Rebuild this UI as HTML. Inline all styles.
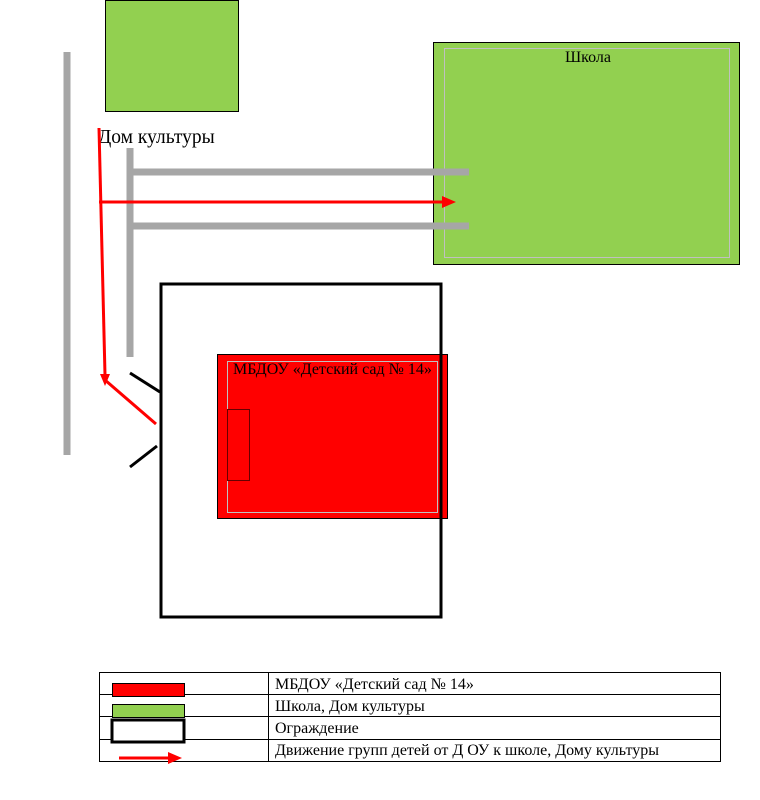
<!DOCTYPE html>
<html><head><meta charset="utf-8"><style>
body{margin:0;background:#fff}
svg text{font-family:"Liberation Serif",serif;fill:#000}
</style></head><body>
<svg width="760" height="795" viewBox="0 0 760 795" xmlns="http://www.w3.org/2000/svg">
<rect x="105.5" y="0.5" width="133" height="111" fill="#92d050" stroke="#000"/>
<text x="98" y="143" font-size="19.5">Дом культуры</text>
<rect x="433.5" y="42.5" width="306" height="222" fill="#92d050" stroke="#000"/>
<rect x="444.5" y="48.5" width="285" height="209" fill="none" stroke="#c0c0c0"/>
<text x="588" y="62" font-size="16" text-anchor="middle">Школа</text>
<g stroke="#a6a6a6" stroke-width="7" fill="none">
<line x1="67" y1="52" x2="67" y2="455"/>
<line x1="130" y1="148" x2="130" y2="357"/>
<line x1="130" y1="172" x2="469" y2="172"/>
<line x1="130" y1="226" x2="469" y2="226"/>
</g>
<rect x="161" y="284" width="280" height="333" fill="none" stroke="#000" stroke-width="3"/>
<rect x="217.5" y="354.5" width="230" height="164" fill="#ff0000" stroke="#000"/>
<rect x="227.5" y="361.5" width="210" height="151" fill="none" stroke="#c0c0c0"/>
<rect x="227.5" y="409.5" width="22" height="71" fill="none" stroke="#600" />
<line x1="441" y1="284" x2="441" y2="617" stroke="#000" stroke-width="3"/>
<text x="233" y="374" font-size="16">МБДОУ «Детский сад № 14»</text>
<g stroke="#000" stroke-width="3">
<line x1="130" y1="373" x2="160" y2="392"/>
<line x1="130" y1="467" x2="157" y2="446"/>
</g>
<g stroke="#ff0000" stroke-width="3" fill="none">
<line x1="99" y1="128" x2="105" y2="375"/>
<line x1="105" y1="380" x2="156" y2="424"/>
<line x1="99" y1="202" x2="443" y2="202"/>
</g>
<polygon points="100,374 110,374 105,386" fill="#ff0000"/>
<polygon points="442,196 456,202 442,208" fill="#ff0000"/>
<g stroke="#000" stroke-width="1">
<line x1="99" y1="672.5" x2="720" y2="672.5"/>
<line x1="99" y1="694.5" x2="720" y2="694.5"/>
<line x1="99" y1="716.5" x2="720" y2="716.5"/>
<line x1="99" y1="739.5" x2="720" y2="739.5"/>
<line x1="99" y1="761.5" x2="720" y2="761.5"/>
<line x1="99.5" y1="672" x2="99.5" y2="762"/>
<line x1="268.5" y1="672" x2="268.5" y2="762"/>
<line x1="720.5" y1="672" x2="720.5" y2="762"/>
</g>
<rect x="112.5" y="683.5" width="72" height="13" fill="#ff0000" stroke="#000"/>
<rect x="112.5" y="704.5" width="72" height="13" fill="#92d050" stroke="#000"/>
<rect x="112" y="720" width="72" height="22" fill="#fff" stroke="#000" stroke-width="3"/>
<line x1="119" y1="758" x2="170" y2="758" stroke="#ff0000" stroke-width="3"/>
<polygon points="168,752 182,758 168,764" fill="#ff0000"/>
<g font-size="16">
<text x="275" y="689">МБДОУ «Детский сад № 14»</text>
<text x="275" y="711">Школа, Дом культуры</text>
<text x="275" y="733">Ограждение</text>
<text x="275" y="755">Движение групп детей от Д ОУ к школе, Дому культуры</text>
</g>
</svg>
</body></html>
